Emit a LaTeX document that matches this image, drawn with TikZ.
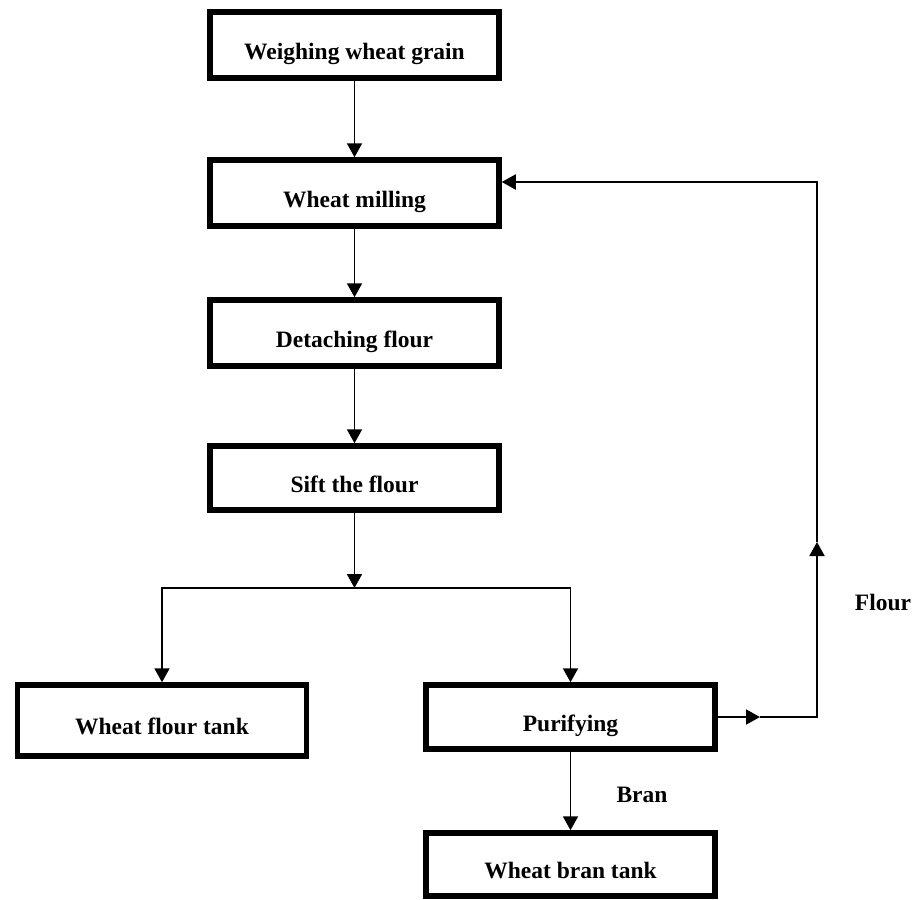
\documentclass[tikz,border=0pt]{standalone}
\usepackage{fontspec}
\setmainfont{Liberation Serif}
\usetikzlibrary{arrows.meta}

\tikzset{
  stepbox/.style={draw=black, line width=5.5pt, rectangle,
    minimum width=289pt, minimum height=66pt, inner sep=2pt,
    text height=32pt, text depth=4pt,
    font=\fontsize{23.5}{28}\selectfont\bfseries},
  conn/.style={draw=black, line width=1.9pt,
    -{Triangle[length=14pt,width=15pt]}},
  plain/.style={draw=black, line width=1.9pt},
  flowlabel/.style={font=\fontsize{23.5}{28}\selectfont\bfseries, inner sep=0pt}
}

\begin{document}
\begin{tikzpicture}[x=1pt, y=-1pt]
  \useasboundingbox (0,0) rectangle (919,900);

  % main column of process steps
  \node[stepbox] (weigh)  at (354.5, 45)  {Weighing wheat grain};
  \node[stepbox] (mill)   at (354.5, 193) {Wheat milling};
  \node[stepbox] (detach) at (354.5, 333) {Detaching flour};
  \node[stepbox, minimum height=64pt] (sift) at (354.5, 478) {Sift the flour};

  % outputs after sifting
  \node[stepbox, minimum height=71pt] (ftank) at (162, 720.5) {Wheat flour tank};
  \node[stepbox, minimum height=64pt] (pur)   at (570.5, 717)  {Purifying};
  \node[stepbox, minimum height=63pt] (btank) at (570.5, 864.5) {Wheat bran tank};

  % straight flow downwards
  \draw[conn] (weigh.south) -- (mill.north);
  \draw[conn] (mill.south) -- (detach.north);
  \draw[conn] (detach.south) -- (sift.north);

  % split after sifting
  \coordinate (split) at (354.5, 588);
  \draw[conn] (sift.south) -- (split);
  \draw[conn] (split) -| (ftank.north);
  \draw[conn] (split) -| (pur.north);

  % bran goes down to its tank
  \draw[conn] (pur.south) -- (btank.north);
  \node[flowlabel] (bran) at (642, 795) {Bran};

  % flour is returned to milling
  \coordinate (fmid)  at (760, 717);
  \coordinate (fcorn) at (817, 717);
  \coordinate (fup)   at (817, 542);
  \coordinate (ftop)  at (817, 182);
  \draw[conn] (pur.east |- fmid) -- (fmid);
  \draw[conn] (fmid) -- (fcorn) -- (fup);
  \draw[conn] (fup) -- (ftop) -- (mill.east |- ftop);
  \node[flowlabel] (flour) at (883, 602) {Flour};
\end{tikzpicture}
\end{document}
